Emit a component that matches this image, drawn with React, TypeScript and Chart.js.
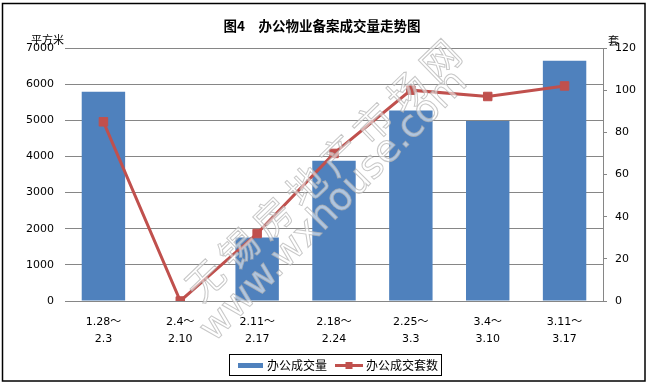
import React, { useEffect, useRef } from "react";
import { Chart, registerables } from "chart.js";

Chart.register(...registerables);

const categories: string[][] = [
  ["1.28～", "2.3"],
  ["2.4～", "2.10"],
  ["2.11～", "2.17"],
  ["2.18～", "2.24"],
  ["2.25～", "3.3"],
  ["3.4～", "3.10"],
  ["3.11～", "3.17"],
];
const areaValues = [5790, 0, 1760, 3880, 5270, 4980, 6650];
const unitValues = [85, 0, 32, 70, 100, 97, 102];

const chartTitle = "图4　办公物业备案成交量走势图";
const leftUnit = "平方米";
const rightUnit = "套";
const areaLabel = "办公成交量";
const unitLabel = "办公成交套数";
const watermarkCn = "无锡房地产市场网";
const watermarkUrl = "www.wxhouse.com";

const BLUE = "#4F81BD";
const RED = "#C0504D";
const GRID = "#868686";
const FONT = "'DejaVu Sans', 'Noto Sans CJK SC', sans-serif";
const CJK = "'Noto Sans CJK SC', sans-serif";

const decorPlugin = {
  id: "decor",
  afterDraw(chart: any) {
    const ctx = chart.ctx as CanvasRenderingContext2D;
    // watermark (hollow, semi-transparent)
    ctx.save();
    const ang = (-44 * Math.PI) / 180;
    ctx.textAlign = "center";
    ctx.textBaseline = "middle";
    ctx.font = `38px ${CJK}`;
    const chars = Array.from(watermarkCn);
    chars.forEach((c, i) => {
      const cx = 205 + i * 33.6;
      const cy = 280 - i * 31.4;
      ctx.save();
      ctx.translate(cx, cy);
      ctx.rotate(ang);
      ctx.fillStyle = "rgba(255,255,255,0.55)";
      ctx.fillText(c, 0, 0);
      ctx.strokeStyle = "rgba(175,175,175,0.7)";
      ctx.lineWidth = 1;
      ctx.strokeText(c, 0, 0);
      ctx.restore();
    });
    ctx.save();
    ctx.translate(207, 336);
    ctx.rotate((-45.5 * Math.PI) / 180);
    ctx.textAlign = "left";
    ctx.textBaseline = "middle";
    ctx.font = `38px 'DejaVu Sans', sans-serif`;
    ctx.fillStyle = "rgba(255,255,255,0.55)";
    ctx.fillText(watermarkUrl, 0, 0);
    ctx.strokeStyle = "rgba(175,175,175,0.7)";
    ctx.lineWidth = 1;
    ctx.strokeText(watermarkUrl, 0, 0);
    ctx.restore();
    ctx.restore();

    // title
    ctx.save();
    ctx.fillStyle = "#000";
    ctx.textAlign = "center";
    ctx.textBaseline = "middle";
    ctx.font = `bold 13.5px ${CJK}`;
    ctx.fillText(chartTitle, 322, 25.5);
    // unit labels
    ctx.font = `11px ${CJK}`;
    ctx.textAlign = "left";
    ctx.fillText(leftUnit, 31, 40);
    ctx.fillText(rightUnit, 608, 41);
    ctx.restore();

    // legend
    ctx.save();
    ctx.strokeStyle = "#000";
    ctx.lineWidth = 1;
    ctx.strokeRect(229.5, 354.5, 212, 21);
    ctx.fillStyle = BLUE;
    ctx.fillRect(238, 363, 25, 5);
    ctx.fillStyle = "#000";
    ctx.font = `12px ${CJK}`;
    ctx.textBaseline = "middle";
    ctx.textAlign = "left";
    ctx.fillText(areaLabel, 267, 365);
    ctx.strokeStyle = RED;
    ctx.lineWidth = 3;
    ctx.beginPath();
    ctx.moveTo(335, 365.5);
    ctx.lineTo(363, 365.5);
    ctx.stroke();
    ctx.fillStyle = RED;
    ctx.fillRect(345.5, 362, 7, 7);
    ctx.fillStyle = "#000";
    ctx.fillText(unitLabel, 366, 365);
    ctx.restore();

    // outer border
    ctx.save();
    ctx.strokeStyle = "#000";
    ctx.lineWidth = 1.5;
    ctx.strokeRect(2.5, 3.5, 642.5, 377.5);
    ctx.restore();
  },
};

export default function App() {
  const ref = useRef<HTMLCanvasElement | null>(null);
  useEffect(() => {
    document.body.style.margin = "0";
    const canvas = ref.current!;
    const chart = new Chart(canvas, {
      type: "bar",
      data: {
        labels: categories,
        datasets: [
          {
            type: "bar",
            label: areaLabel,
            data: areaValues,
            backgroundColor: BLUE,
            yAxisID: "y",
            order: 2,
            barPercentage: 0.565,
            categoryPercentage: 1,
          },
          {
            type: "line",
            label: unitLabel,
            data: unitValues,
            borderColor: RED,
            backgroundColor: RED,
            borderWidth: 3,
            pointStyle: "rect",
            pointRadius: 6,
            pointBorderWidth: 1,
            pointBackgroundColor: RED,
            pointBorderColor: RED,
            yAxisID: "y1",
            order: 1,
            tension: 0,
          },
        ] as any,
      },
      options: {
        responsive: false,
        animation: false,
        events: [],
        layout: { padding: { top: 48, left: 0, right: 0, bottom: 0 } },
        plugins: {
          legend: { display: false },
          title: { display: false },
          tooltip: { enabled: false },
        },
        scales: {
          x: {
            grid: { display: false, drawTicks: false },
            border: { display: true, color: GRID, width: 1 },
            ticks: {
              color: "#000",
              font: { family: FONT, size: 11, lineHeight: 1.55 },
              padding: 13,
              maxRotation: 0,
              autoSkip: false,
            },
            afterFit(scale: any) {
              scale.height = 84;
            },
          },
          y: {
            position: "left",
            min: 0,
            max: 7000,
            grid: { color: GRID, lineWidth: 1, drawTicks: false },
            border: { display: false },
            ticks: {
              stepSize: 1000,
              color: "#000",
              padding: 11,
              font: { family: FONT, size: 11 },
              callback: (v: any) => String(v),
            },
            afterFit(scale: any) {
              scale.width = 65;
            },
          },
          y1: {
            position: "right",
            min: 0,
            max: 120,
            grid: { drawOnChartArea: false, drawTicks: true, tickLength: 4, color: GRID },
            border: { display: true, color: GRID, width: 1 },
            ticks: {
              stepSize: 20,
              color: "#000",
              padding: 8,
              font: { family: FONT, size: 11 },
              callback: (v: any) => String(v),
            },
            afterFit(scale: any) {
              scale.width = 48;
            },
          },
        },
      } as any,
      plugins: [decorPlugin],
    });
    return () => chart.destroy();
  }, []);
  return (
    <div style={{ position: "absolute", left: 0, top: 0, width: 651, height: 385, background: "#fff" }}>
      <canvas ref={ref} width={651} height={385} style={{ display: "block" }} />
    </div>
  );
}
